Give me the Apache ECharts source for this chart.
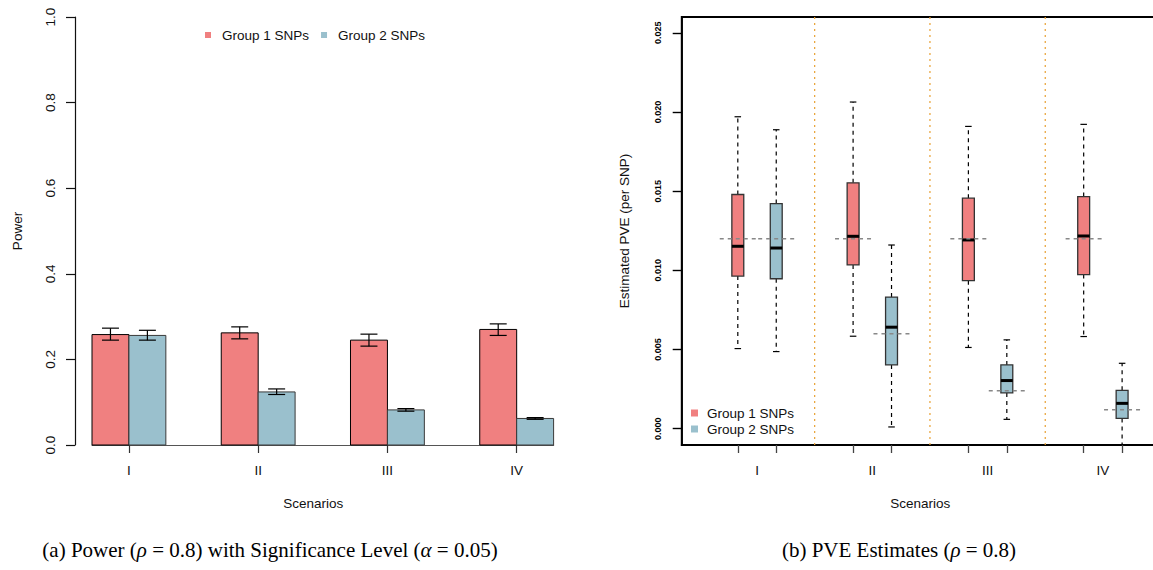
<!DOCTYPE html>
<html>
<head>
<meta charset="UTF-8">
<title>Power and PVE estimates</title>
<style>
body { margin:0; padding:0; border:0; background:#fff; }
</style>
<script src="https://cdn.jsdelivr.net/npm/echarts@6/dist/echarts.min.js"></script>
</head>
<body>
<div id="main" style="width:1153px;height:570px;"></div>
<script>
// scenario names
var scenarios = ['I', 'II', 'III', 'IV'];
var groups = ['Group 1 SNPs', 'Group 2 SNPs'];

// (a) power, bar height + error bar low / high
var power1   = [0.258, 0.262, 0.245, 0.270];
var power1Lo = [0.245, 0.248, 0.231, 0.256];
var power1Hi = [0.273, 0.276, 0.259, 0.283];
var power2   = [0.256, 0.124, 0.082, 0.062];
var power2Lo = [0.245, 0.118, 0.079, 0.060];
var power2Hi = [0.268, 0.131, 0.085, 0.064];
var powerTicks = [0, 0.2, 0.4, 0.6, 0.8, 1.0];

// (b) PVE boxplots: min, q1, median, q3, max
var pve1 = [
  [0.00506, 0.00964, 0.01152, 0.01479, 0.01970],
  [0.00584, 0.01034, 0.01215, 0.01553, 0.02063],
  [0.00513, 0.00935, 0.01192, 0.01456, 0.01909],
  [0.00582, 0.00973, 0.01217, 0.01466, 0.01922]
];
var pve2 = [
  [0.00487, 0.00947, 0.01141, 0.01422, 0.01888],
  [0.00011, 0.00403, 0.00641, 0.00831, 0.01160],
  [0.00059, 0.00226, 0.00304, 0.00403, 0.00561],
  [-0.0016, 0.00065, 0.00160, 0.00242, 0.00413]
];
// true PVE (grey dashed lines)
var truePve1 = [0.012, 0.012, 0.012, 0.012];
var truePve2 = [0.012, 0.006, 0.0024, 0.0012];
var pveTicks = [0, 0.005, 0.010, 0.015, 0.020, 0.025];

var RED = '#F08080', BLUE = '#9AC0CD';
var FONT = 'Liberation Sans';

// positions (R barplot / boxplot style units)
var barPos1 = [], barPos2 = [], barMid = [], boxPos1 = [], boxPos2 = [], boxTicks = [], boxMid = [], seps = [];
for (var i = 0; i < scenarios.length; i++) {
  barPos1.push(1.5 + 3.5 * i);
  barPos2.push(2.5 + 3.5 * i);
  barMid.push(2.5 + 3.5 * i);
  boxPos1.push(1 + 3 * i);
  boxPos2.push(2 + 3 * i);
  boxTicks.push(1 + 3 * i, 2 + 3 * i);
  boxMid.push(1.5 + 3 * i);
  if (i > 0) seps.push(3 * i);
}

var barData1 = [], barData2 = [], errData1 = [], errData2 = [];
var boxData1 = [], boxData2 = [], refData1 = [], refData2 = [];
for (var i = 0; i < scenarios.length; i++) {
  barData1.push([barPos1[i], power1[i]]);
  barData2.push([barPos2[i], power2[i]]);
  errData1.push([barPos1[i] + 0.5, power1Lo[i], power1Hi[i]]);
  errData2.push([barPos2[i] + 0.5, power2Lo[i], power2Hi[i]]);
  boxData1.push([boxPos1[i]].concat(pve1[i]));
  boxData2.push([boxPos2[i]].concat(pve2[i]));
  refData1.push([boxPos1[i], truePve1[i]]);
  refData2.push([boxPos2[i], truePve2[i]]);
}

function barItem(params, api) {
  var x0 = api.value(0), h = api.value(1);
  var p0 = api.coord([x0, 0]), p1 = api.coord([x0 + 1, h]);
  return {
    type: 'rect',
    shape: { x: p0[0], y: p1[1], width: p1[0] - p0[0], height: p0[1] - p1[1] },
    style: { fill: api.visual('color'), stroke: params.seriesIndex === 0 ? '#000' : '#3a3a3a', lineWidth: 1 }
  };
}

function errItem(params, api) {
  var c = api.value(0);
  var lo = api.coord([c, api.value(1)]), hi = api.coord([c, api.value(2)]);
  var hw = api.size([0.23, 0])[0];
  var st = { stroke: '#000', lineWidth: 1.2 };
  return {
    type: 'group',
    children: [
      { type: 'line', shape: { x1: lo[0], y1: lo[1], x2: hi[0], y2: hi[1] }, style: st },
      { type: 'line', shape: { x1: lo[0] - hw, y1: lo[1], x2: lo[0] + hw, y2: lo[1] }, style: st },
      { type: 'line', shape: { x1: hi[0] - hw, y1: hi[1], x2: hi[0] + hw, y2: hi[1] }, style: st }
    ]
  };
}

function boxItem(params, api) {
  var c = api.value(0);
  var pMin = api.coord([c, api.value(1)]), pQ1 = api.coord([c, api.value(2)]);
  var pMed = api.coord([c, api.value(3)]), pQ3 = api.coord([c, api.value(4)]);
  var pMax = api.coord([c, api.value(5)]);
  var hw = api.size([0.155, 0])[0];
  var cw = api.size([0.085, 0])[0];
  var x = pMed[0];
  var dash = { stroke: '#000', lineWidth: 1.2, lineDash: [4, 4] };
  var solid = { stroke: '#000', lineWidth: 1.2 };
  return {
    type: 'group',
    children: [
      { type: 'line', shape: { x1: x, y1: pQ3[1], x2: x, y2: pMax[1] }, style: dash },
      { type: 'line', shape: { x1: x, y1: pQ1[1], x2: x, y2: pMin[1] }, style: dash },
      { type: 'line', shape: { x1: x - cw, y1: pMax[1], x2: x + cw, y2: pMax[1] }, style: solid },
      { type: 'line', shape: { x1: x - cw, y1: pMin[1], x2: x + cw, y2: pMin[1] }, style: solid },
      { type: 'rect', shape: { x: x - hw, y: pQ3[1], width: 2 * hw, height: pQ1[1] - pQ3[1] },
        style: { fill: api.visual('color'), stroke: '#333', lineWidth: 1.3 } },
      { type: 'line', shape: { x1: x - hw, y1: pMed[1], x2: x + hw, y2: pMed[1] }, style: { stroke: '#000', lineWidth: 3 } }
    ]
  };
}

function refItem(params, api) {
  var c = api.value(0), v = api.value(1);
  var a = api.coord([c - 0.47, v]), b = api.coord([c + 0.47, v]);
  return { type: 'line', shape: { x1: a[0], y1: a[1], x2: b[0], y2: b[1] },
    style: { stroke: '#888', lineWidth: 1.5, lineDash: [4, 4] } };
}

function sepItem(params, api) {
  var p = api.coord([api.value(0), 0]);
  var cs = params.coordSys;
  return { type: 'line', shape: { x1: p[0], y1: cs.y, x2: p[0], y2: cs.y + cs.height },
    style: { stroke: '#E8A032', lineWidth: 1.2, lineDash: [2, 4] } };
}

var myChart = echarts.init(document.getElementById('main'), null, { renderer: 'svg' });

var option = {
  animation: false,
  backgroundColor: '#fff',
  textStyle: { fontFamily: FONT },
  grid: [
    { left: 92, width: 461.6, top: 17, bottom: 125, outerBoundsMode: 'none' },
    { left: 681.7, width: 477.3, top: 17, bottom: 125, outerBoundsMode: 'none',
      show: true, borderColor: '#000', borderWidth: 1.8 }
  ],
  legend: [
    {
      data: groups, left: 205, top: 28, padding: 0, icon: 'rect', itemWidth: 6, itemHeight: 6, itemGap: 12,
      textStyle: { fontFamily: FONT, fontSize: 13.5, color: '#111', lineHeight: 14, padding: [0, 0, 0, 6] },
      selectedMode: false
    },
    {
      data: groups, orient: 'vertical', left: 691, top: 406, padding: 0, icon: 'rect', itemWidth: 7, itemHeight: 7, itemGap: 2,
      textStyle: { fontFamily: FONT, fontSize: 13.5, color: '#111', lineHeight: 14, padding: [0, 0, 0, 4] },
      selectedMode: false
    }
  ],
  xAxis: [
    {
      type: 'value', gridIndex: 0, min: 1.5, max: 14,
      axisLine: { show: true, onZero: false, lineStyle: { color: '#555', width: 1.2 } },
      axisTick: { show: true, length: 8, customValues: barMid, lineStyle: { color: '#333', width: 1.2 } },
      axisLabel: { customValues: barMid, margin: 18, fontSize: 13.5, color: '#111',
        formatter: function (v) { return scenarios[Math.round((v - 2.5) / 3.5)]; } },
      splitLine: { show: false },
      name: 'Scenarios', nameLocation: 'middle', nameGap: 51,
      nameTextStyle: { fontSize: 13.5, color: '#111', padding: [0, 19, 0, 0] }
    },
    {
      type: 'value', gridIndex: 1, min: -0.46, max: 11.96,
      axisLine: { show: true, onZero: false, lineStyle: { color: '#000', width: 1.8 } },
      axisTick: { show: true, length: 8, customValues: boxTicks, lineStyle: { color: '#444', width: 1.3 } },
      axisLabel: { customValues: boxMid, margin: 18, fontSize: 13.5, color: '#111',
        formatter: function (v) { return scenarios[Math.round((v - 1.5) / 3)]; } },
      splitLine: { show: false },
      name: 'Scenarios', nameLocation: 'middle', nameGap: 51,
      nameTextStyle: { fontSize: 13.5, color: '#111' }
    }
  ],
  yAxis: [
    {
      type: 'value', gridIndex: 0, min: 0, max: 1, offset: 17,
      axisLine: { show: true, onZero: false, lineStyle: { color: '#111', width: 1.2 } },
      axisTick: { show: true, length: 9, customValues: powerTicks, lineStyle: { color: '#111', width: 1.2 } },
      axisLabel: { customValues: powerTicks, rotate: 90, margin: 18, fontSize: 13.5, color: '#111',
        formatter: function (v) { return v.toFixed(1); } },
      splitLine: { show: false },
      name: 'Power', nameLocation: 'middle', nameGap: 51,
      nameTextStyle: { fontSize: 13.5, color: '#111' }
    },
    {
      type: 'value', gridIndex: 1, min: -0.00103, max: 0.0260,
      axisLine: { show: true, onZero: false, lineStyle: { color: '#000', width: 1.8 } },
      axisTick: { show: true, length: 9, customValues: pveTicks, lineStyle: { color: '#000', width: 1.4 } },
      axisLabel: { customValues: pveTicks, rotate: 90, margin: 19, fontSize: 9, fontWeight: 'bold', color: '#000',
        formatter: function (v) { return v.toFixed(3); } },
      splitLine: { show: false },
      name: 'Estimated PVE (per SNP)', nameLocation: 'middle', nameGap: 50,
      nameTextStyle: { fontSize: 13.5, color: '#111' }
    }
  ],
  series: [
    { name: groups[0], type: 'custom', xAxisIndex: 0, yAxisIndex: 0, renderItem: barItem,
      itemStyle: { color: RED }, encode: { x: 0, y: 1 }, data: barData1 },
    { name: groups[1], type: 'custom', xAxisIndex: 0, yAxisIndex: 0, renderItem: barItem,
      itemStyle: { color: BLUE }, encode: { x: 0, y: 1 }, data: barData2 },
    { type: 'custom', xAxisIndex: 0, yAxisIndex: 0, renderItem: errItem, encode: { x: 0, y: [1, 2] }, data: errData1 },
    { type: 'custom', xAxisIndex: 0, yAxisIndex: 0, renderItem: errItem, encode: { x: 0, y: [1, 2] }, data: errData2 },
    { type: 'custom', xAxisIndex: 1, yAxisIndex: 1, renderItem: sepItem, encode: { x: 0 }, data: seps.map(function (s) { return [s]; }), clip: true },
    { name: groups[0], type: 'custom', xAxisIndex: 1, yAxisIndex: 1, renderItem: boxItem, clip: true,
      itemStyle: { color: RED }, encode: { x: 0, y: [1, 2, 3, 4, 5] }, data: boxData1 },
    { name: groups[1], type: 'custom', xAxisIndex: 1, yAxisIndex: 1, renderItem: boxItem, clip: true,
      itemStyle: { color: BLUE }, encode: { x: 0, y: [1, 2, 3, 4, 5] }, data: boxData2 },
    { type: 'custom', xAxisIndex: 1, yAxisIndex: 1, renderItem: refItem, clip: true, encode: { x: 0, y: 1 }, data: refData1 },
    { type: 'custom', xAxisIndex: 1, yAxisIndex: 1, renderItem: refItem, clip: true, encode: { x: 0, y: 1 }, data: refData2 }
  ],
  graphic: [
    { type: 'text', x: 270, y: 550, style: {
        text: '(a) Power ({i|ρ} = 0.8) with Significance Level ({i|α} = 0.05)',
        font: '21px "Liberation Serif"', fill: '#000', align: 'center', verticalAlign: 'middle',
        rich: { i: { fontStyle: 'italic', fontFamily: 'Liberation Serif', fontSize: 21 } } } },
    { type: 'text', x: 899, y: 550, style: {
        text: '(b) PVE Estimates ({i|ρ} = 0.8)',
        font: '21px "Liberation Serif"', fill: '#000', align: 'center', verticalAlign: 'middle',
        rich: { i: { fontStyle: 'italic', fontFamily: 'Liberation Serif', fontSize: 21 } } } }
  ]
};

myChart.setOption(option);
</script>
</body>
</html>
